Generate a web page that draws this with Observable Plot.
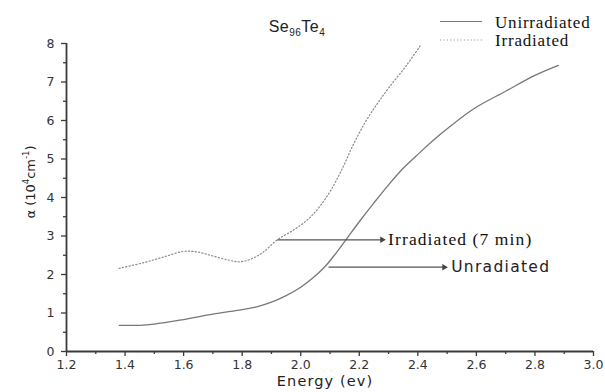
<!DOCTYPE html>
<html><head><meta charset="utf-8">
<script src="https://cdn.jsdelivr.net/npm/d3@7"></script>
<script src="https://cdn.jsdelivr.net/npm/@observablehq/plot@0.6"></script>
<style>body{margin:0;background:#fff}#chart{width:605px;height:392px}</style>
</head><body><div id="chart"></div>
<script>
// Data
const seriesNames = ["Unirradiated", "Irradiated"];
const unirrEnergy = [1.38,1.45,1.5,1.6,1.7,1.8,1.85,1.9,1.95,2.0,2.04,2.08,2.12,2.16,2.2,2.25,2.3,2.35,2.4,2.48,2.59,2.7,2.8,2.88];
const unirrAlpha  = [0.68,0.68,0.71,0.83,0.97,1.09,1.16,1.28,1.45,1.67,1.9,2.18,2.55,2.96,3.37,3.86,4.33,4.76,5.12,5.66,6.3,6.76,7.17,7.43];
const irrEnergy = [1.38,1.46,1.53,1.6,1.65,1.7,1.75,1.79,1.83,1.87,1.92,1.97,2.02,2.06,2.1,2.14,2.18,2.22,2.26,2.3,2.36,2.41];
const irrAlpha  = [2.16,2.3,2.45,2.6,2.58,2.48,2.38,2.33,2.4,2.57,2.9,3.13,3.4,3.72,4.15,4.72,5.38,5.95,6.42,6.84,7.42,7.96];
const xTicks = [1.2,1.4,1.6,1.8,2.0,2.2,2.4,2.6,2.8,3.0];
const xMinor = [1.3,1.5,1.7,1.9,2.1,2.3,2.5,2.7,2.9];
const yTicks = [0,1,2,3,4,5,6,7,8];
const yMinor = [0.5,1.5,2.5,3.5,4.5,5.5,6.5,7.5];
const annoLabels = ["Irradiated (7 min)", "Unradiated"];
const annoStartX = [1.92, 2.095];
const annoEndX = [2.278, 2.49];
const annoY = [2.9, 2.19];

const unirr = unirrEnergy.map((e, i) => ({e, a: unirrAlpha[i]}));
const irr = irrEnergy.map((e, i) => ({e, a: irrAlpha[i]}));
const annos = annoLabels.map((t, i) => ({t, x1: annoStartX[i], x2: annoEndX[i], y: annoY[i]}));

const axisColor = "#3a3a3a";
const plot = Plot.plot({
  width: 605, height: 392,
  marginLeft: 66, marginRight: 12, marginTop: 43, marginBottom: 41,
  style: {fontFamily: "DejaVu Sans", fontSize: "12.5px", color: "#333", background: "#fff"},
  x: {domain: [1.2, 3.0]},
  y: {domain: [0, 8]},
  marks: [
    Plot.axisX({ticks: xTicks, tickSize: 5, tickPadding: 4, tickFormat: d3.format(".1f"), label: null, stroke: axisColor, strokeWidth: 1.3}),
    Plot.axisX({ticks: xMinor, tickSize: 3, text: null, label: null, stroke: axisColor, strokeWidth: 1.3}),
    Plot.axisY({ticks: yTicks, tickSize: 5, tickPadding: 7, label: null, stroke: axisColor, strokeWidth: 1.3}),
    Plot.axisY({ticks: yMinor, tickSize: 3, text: null, label: null, stroke: axisColor, strokeWidth: 1.3}),
    Plot.ruleY([yTicks[0]], {stroke: axisColor, strokeWidth: 1.8}),
    Plot.ruleX([xTicks[0]], {stroke: axisColor, strokeWidth: 1.8}),
    Plot.line(irr, {x: "e", y: "a", curve: "catmull-rom", stroke: "#8a8a8a", strokeWidth: 1.2, strokeDasharray: "1.2,2.2"}),
    Plot.line(unirr, {x: "e", y: "a", curve: "catmull-rom", stroke: "#777", strokeWidth: 1.3}),
    Plot.link(annos, {x1: "x1", x2: "x2", y1: "y", y2: "y", stroke: "#555", strokeWidth: 1.2}),
    Plot.dot(annos, {x: "x2", y: "y", symbol: "triangle", rotate: 90, r: 2.4, fill: "#444", stroke: null}),
    Plot.text(annos.slice(0,1), {x: "x2", y: "y", text: "t", textAnchor: "start", dx: 6, fontFamily: "Liberation Serif", fontSize: 17.5, fill: "#111"}),
    Plot.text(annos.slice(1), {x: "x2", y: "y", text: "t", textAnchor: "start", dx: 7, fontFamily: "DejaVu Sans", fontSize: 15.5, fill: "#222"}),
    Plot.text(["Energy (ev)"], {frameAnchor: "bottom", dx: -5, dy: 34.5, fontSize: 14.5, fill: "#222"})
  ]
});
document.getElementById("chart").appendChild(plot);

const svg = d3.select(plot);
// widen the annotation / label text a little, like the stretched reference
svg.selectAll("text").filter(function() { return this.textContent === "Irradiated (7 min)"; }).attr("letter-spacing", 1.1);
svg.selectAll("text").filter(function() { return this.textContent === "Unradiated"; }).attr("letter-spacing", 1.3);
svg.selectAll("text").filter(function() { return this.textContent === "Energy (ev)"; }).attr("letter-spacing", 1.1);

// Title with subscripts
const title = svg.append("text").attr("x", 297).attr("y", 32).attr("text-anchor", "middle")
  .attr("font-family", "Liberation Sans").attr("font-size", 16).attr("fill", "#222").attr("letter-spacing", 0.5);
title.append("tspan").text("Se");
title.append("tspan").attr("font-size", 10).attr("dy", 4).text("96");
title.append("tspan").attr("dy", -4).text("Te");
title.append("tspan").attr("font-size", 10).attr("dy", 4).text("4");

// Y label with superscripts
const yl = svg.append("text").attr("transform", "translate(35,182) rotate(-90)").attr("text-anchor", "middle")
  .attr("font-family", "DejaVu Sans").attr("font-size", 13).attr("fill", "#222");
yl.append("tspan").text("α (10");
yl.append("tspan").attr("font-size", 8.5).attr("dy", -6).text("4");
yl.append("tspan").attr("dy", 6).text("cm");
yl.append("tspan").attr("font-size", 8.5).attr("dy", -6).text("-1");
yl.append("tspan").attr("dy", 6).text(")");

// Legend
const leg = svg.append("g");
const legY = [21.5, 40];
const legDash = [null, "1.2,2.2"];
seriesNames.forEach((name, i) => {
  const l = leg.append("line").attr("x1", 440).attr("x2", 482).attr("y1", legY[i]).attr("y2", legY[i])
    .attr("stroke", i ? "#9a9a9a" : "#777").attr("stroke-width", 1.2);
  if (legDash[i]) l.attr("stroke-dasharray", legDash[i]);
  leg.append("text").attr("x", 495).attr("y", legY[i] + 6).attr("text-anchor", "start")
    .attr("font-family", "Liberation Serif").attr("letter-spacing", 0.8)
    .attr("font-size", 17).attr("fill", "#111").text(name);
});
</script>
</body></html>
